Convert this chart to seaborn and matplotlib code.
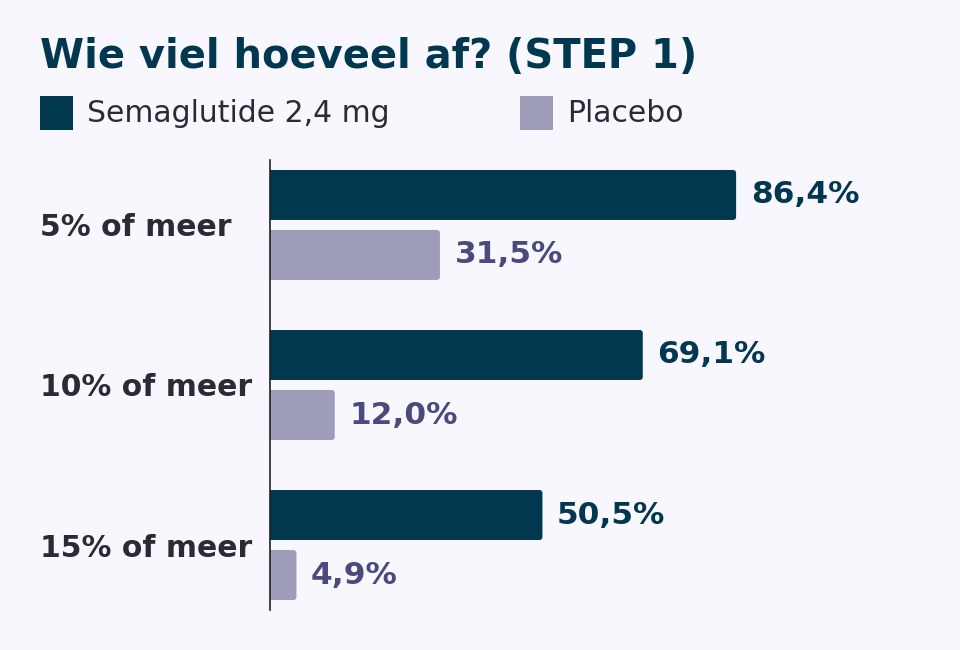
import pandas as pd
import seaborn as sns
import matplotlib.pyplot as plt
from matplotlib.patches import Rectangle, FancyBboxPatch

# data
categories = ["5% of meer", "10% of meer", "15% of meer"]
semaglutide = [86.4, 69.1, 50.5]
placebo = [31.5, 12.0, 4.9]
groups = ["Semaglutide 2,4 mg", "Placebo"]

BG = "#f8f7fd"
DARK = "#02384f"
LIGHT = "#9d9dba"
LIGHT_TXT = "#4a4a7c"
TXT = "#2b2b33"


def main():
    df = pd.DataFrame({
        "cat": categories * 2,
        "val": semaglutide + placebo,
        "group": [groups[0]] * 3 + [groups[1]] * 3,
    })

    sns.set_style("white")
    plt.rcParams["font.family"] = ["DejaVu Sans"]

    fig = plt.figure(figsize=(9.6, 6.5), dpi=100, facecolor=BG)
    ax = fig.add_axes([270 / 960, 1 - 610 / 650, 1 - 270 / 960, 450 / 650])
    ax.set_facecolor(BG)

    sns.barplot(data=df, y="cat", x="val", hue="group", order=categories,
                hue_order=groups, palette=[DARK, LIGHT], width=0.75, gap=0.167,
                orient="h", legend=False, ax=ax, saturation=1)

    ax.set_xlim(0, 127.9)
    ax.set_ylim(2.406, -0.406)

    # rounded right ends: swap each bar for a rounded box (left end hidden past x=0)
    r = 0.55
    for p in list(ax.patches):
        x0, y0, w, h = p.get_x(), p.get_y(), p.get_width(), p.get_height()
        box = FancyBboxPatch((x0 - r, y0), w + r, h,
                             boxstyle=f"round,pad=0,rounding_size={r}",
                             mutation_aspect=0.034, fc=p.get_facecolor(), lw=0)
        ax.add_patch(box)
        p.set_visible(False)

    # value labels
    for cont, col in zip(ax.containers, [DARK, LIGHT_TXT]):
        labels = [f"{v:.1f}%".replace(".", ",") for v in cont.datavalues]
        ax.bar_label(cont, labels=labels, padding=10.5, color=col,
                     fontsize=22.5, fontweight="bold")

    # axes styling
    for s in ["top", "right", "bottom"]:
        ax.spines[s].set_visible(False)
    ax.spines["left"].set_color("#222222")
    ax.spines["left"].set_linewidth(1.2)
    ax.spines["left"].set_zorder(5)
    ax.set_xticks([])
    ax.set_xlabel("")
    ax.set_ylabel("")
    ax.tick_params(axis="y", length=0, pad=165.6)
    ax.set_yticks(range(len(categories)))
    ax.set_yticklabels(categories, fontsize=21.5, fontweight="bold", color=TXT, ha="left")

    # title
    fig.text(40 / 960, 1 - 68 / 650, "Wie viel hoeveel af? (STEP 1)", fontsize=28.8,
             fontweight="bold", color=DARK, ha="left", va="baseline")

    # legend
    for x0, lab, col in [(40, groups[0], DARK), (520, groups[1], LIGHT)]:
        fig.add_artist(Rectangle((x0 / 960, 1 - 130 / 650), 33 / 960, 34 / 650,
                                 transform=fig.transFigure, color=col, lw=0))
        fig.text((x0 + 47) / 960, 1 - 114 / 650, lab, fontsize=21.5, color=TXT,
                 ha="left", va="center")

    fig.savefig("out.png", dpi=100, facecolor=BG)


if __name__ == "__main__":
    main()
